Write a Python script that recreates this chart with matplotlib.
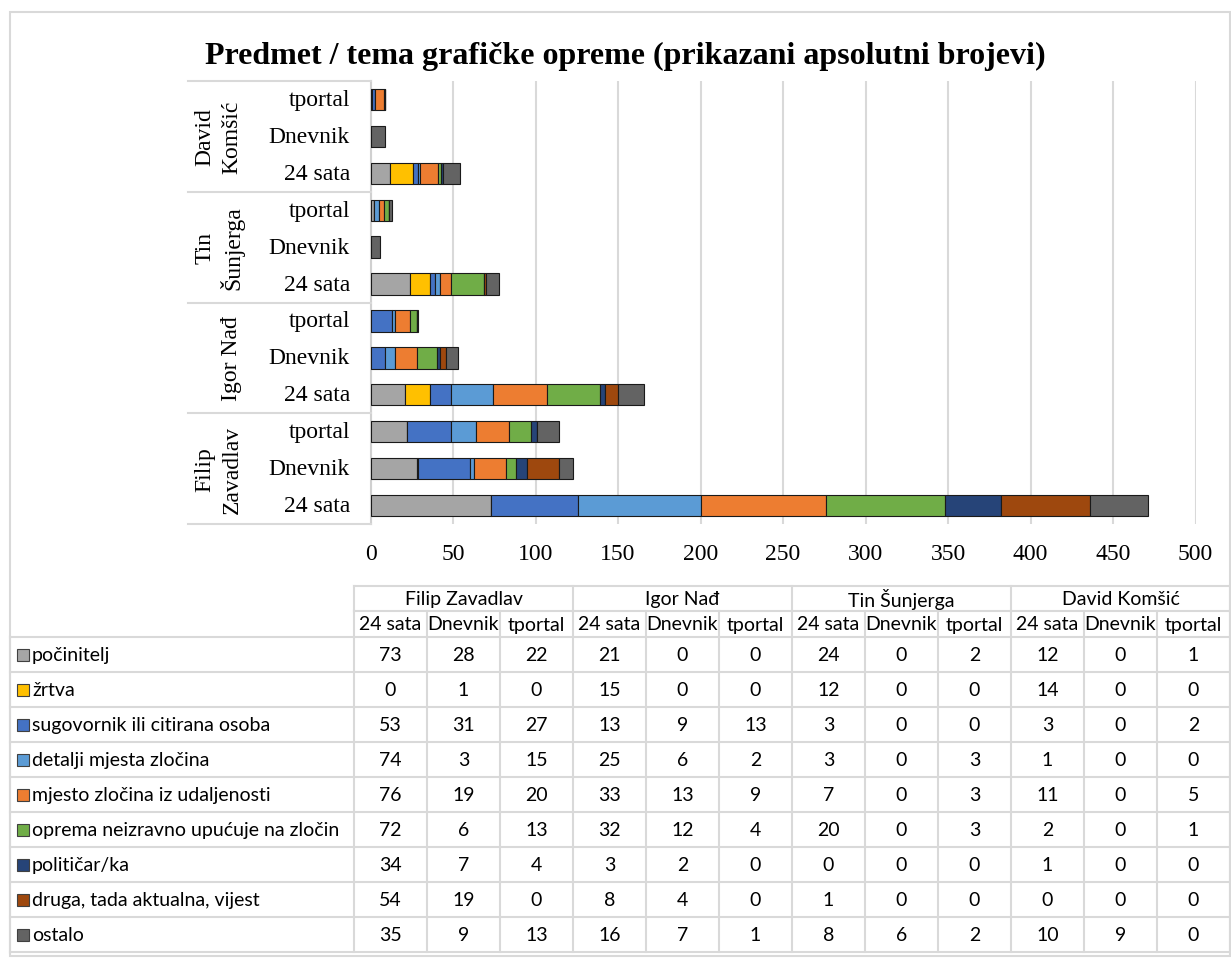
import matplotlib
matplotlib.use("Agg")
import matplotlib.pyplot as plt
from matplotlib.lines import Line2D
from matplotlib.patches import Rectangle
from matplotlib.transforms import blended_transform_factory
import numpy as np

# ---------------- data ----------------
people = ["Filip Zavadlav", "Igor Nađ", "Tin Šunjerga", "David Komšić"]
people_axis = [["Filip", "Zavadlav"], ["Igor Nađ"], ["Tin", "Šunjerga"], ["David", "Komšić"]]
portals = ["24 sata", "Dnevnik", "tportal"]

series_names = ["počinitelj", "žrtva", "sugovornik ili citirana osoba", "detalji mjesta zločina",
                "mjesto zločina iz udaljenosti", "oprema neizravno upućuje na zločin",
                "političar/ka", "druga, tada aktualna, vijest", "ostalo"]
# order: FZ(24 sata, Dnevnik, tportal), IN(...), TS(...), DK(...)
pocinitelj = [73, 28, 22, 21, 0, 0, 24, 0, 2, 12, 0, 1]
zrtva      = [0, 1, 0, 15, 0, 0, 12, 0, 0, 14, 0, 0]
sugovornik = [53, 31, 27, 13, 9, 13, 3, 0, 0, 3, 0, 2]
detalji    = [74, 3, 15, 25, 6, 2, 3, 0, 3, 1, 0, 0]
mjesto     = [76, 19, 20, 33, 13, 9, 7, 0, 3, 11, 0, 5]
oprema     = [72, 6, 13, 32, 12, 4, 20, 0, 3, 2, 0, 1]
politicar  = [34, 7, 4, 3, 2, 0, 0, 0, 0, 1, 0, 0]
druga      = [54, 19, 0, 8, 4, 0, 1, 0, 0, 0, 0, 0]
ostalo     = [35, 9, 13, 16, 7, 1, 8, 6, 2, 10, 9, 0]
series_values = [pocinitelj, zrtva, sugovornik, detalji, mjesto, oprema, politicar, druga, ostalo]
colors = ["#A5A5A5", "#FFC000", "#4472C4", "#5B9BD5", "#ED7D31", "#70AD47",
          "#264478", "#9E480E", "#636363"]
xticks = list(range(0, 501, 50))

title = "Predmet / tema grafičke opreme (prikazani apsolutni brojevi)"

# ---------------- layout helpers ----------------
W, H = 1231, 962
def fx(x): return x / W
def fy(y): return 1 - y / H

SERIF = "Liberation Serif"
SANS = "Lato"
GRID = "#D9D9D9"
plt.rcParams["font.family"] = [SERIF, "DejaVu Serif"]

fig = plt.figure(figsize=(W / 100, H / 100), dpi=100)
fig.patch.set_facecolor("white")

# outer frame
fig.add_artist(Rectangle((fx(10), fy(957)), (1230 - 10) / W, (957 - 13) / H,
                         transform=fig.transFigure, fill=False, edgecolor=GRID, lw=1.5))

fig.text(fx(625), fy(56), title, ha="center", va="center", fontsize=23,
         fontweight="bold", family=SERIF)

# ---------------- bar chart ----------------
ax = fig.add_axes([fx(370.5), fy(525), 825 / W, 443 / H])
n = len(pocinitelj)
ypos = np.arange(n)
left = np.zeros(n)
for vals, col in zip(series_values, colors):
    v = np.array(vals, dtype=float)
    ax.barh(ypos, v, left=left, height=0.58, color=col, edgecolor="#1a1a1a",
            linewidth=0.8, zorder=3)
    left += v

ax.set_xlim(0, 500)
ax.set_ylim(-0.5, n - 0.5)
ax.set_xticks(xticks)
ax.set_xticklabels([str(t) for t in xticks])
for lbl in ax.get_xticklabels():
    lbl.set_fontfamily(SERIF)
    lbl.set_fontsize(17)
ax.tick_params(axis="x", length=0, pad=14)
ax.set_yticks([])
ax.grid(axis="x", color=GRID, lw=1.5, zorder=0)
ax.set_axisbelow(True)
for s in ["top", "right", "bottom"]:
    ax.spines[s].set_visible(False)
ax.spines["left"].set_color("#D0D0D0")
ax.spines["left"].set_linewidth(1.5)

# category axis labels
trans = blended_transform_factory(fig.transFigure, ax.transData)
for i in range(n):
    t = fig.text(fx(350), 0, portals[i % 3], transform=trans, ha="right", va="center",
                 fontsize=17, family=SERIF)
    t.set_y(i)
for g, lines in enumerate(people_axis):
    yc = g * 3 + 1
    xs = [232] if len(lines) == 1 else [205, 232]
    for xpx, t in zip(xs, lines):
        txt = fig.text(fx(xpx), 0, t, transform=trans, ha="center", va="center",
                       rotation=90, fontsize=17, family=SERIF)
        txt.set_y(yc)
for k in range(len(people) + 1):
    yv = k * 3 - 0.5
    fig.add_artist(Line2D([fx(188), fx(370.5)], [yv, yv], transform=trans,
                          color=GRID, lw=1.5))

# ---------------- data table ----------------
col0, colw = 354, 73
right = col0 + colw * 12
h1_top, h1_bot, h2_bot = 587, 612, 638
rowh = 35
nrows = len(series_names)
tbl_bot = h2_bot + rowh * nrows
TFS = 14

def hline(x0, x1, y):
    fig.add_artist(Line2D([fx(x0), fx(x1)], [fy(y), fy(y)], color=GRID, lw=1.5))
def vline(x, y0, y1):
    fig.add_artist(Line2D([fx(x), fx(x)], [fy(y0), fy(y1)], color=GRID, lw=1.5))

hline(col0, right, h1_top)
hline(col0, right, h1_bot)
for g in range(5):
    vline(col0 + g * 3 * colw, h1_top, h1_bot)
for j in range(13):
    vline(col0 + j * colw, h1_bot, tbl_bot)
vline(10, h2_bot, tbl_bot)
for r in range(nrows + 1):
    hline(10, right, h2_bot + r * rowh)

for g, p in enumerate(people):
    fig.text(fx(col0 + (g * 3 + 1.5) * colw), fy((h1_top + h1_bot) / 2), p,
             ha="center", va="center", fontsize=TFS, family=SANS)
for j in range(12):
    fig.text(fx(col0 + (j + 0.5) * colw), fy((h1_bot + h2_bot) / 2), portals[j % 3],
             ha="center", va="center", fontsize=TFS, family=SANS)

for r, (name, vals, col) in enumerate(zip(series_names, series_values, colors)):
    yc = h2_bot + (r + 0.5) * rowh
    fig.add_artist(Rectangle((fx(17), fy(yc + 6)), 12 / W, 12 / H, transform=fig.transFigure,
                             facecolor=col, edgecolor="#404040", lw=0.8))
    fig.text(fx(32), fy(yc), name, ha="left", va="center", fontsize=TFS, family=SANS)
    for j, v in enumerate(vals):
        fig.text(fx(col0 + (j + 0.5) * colw), fy(yc), str(v), ha="center", va="center",
                 fontsize=TFS, family=SANS)

fig.savefig("out.png", dpi=100, facecolor="white")
